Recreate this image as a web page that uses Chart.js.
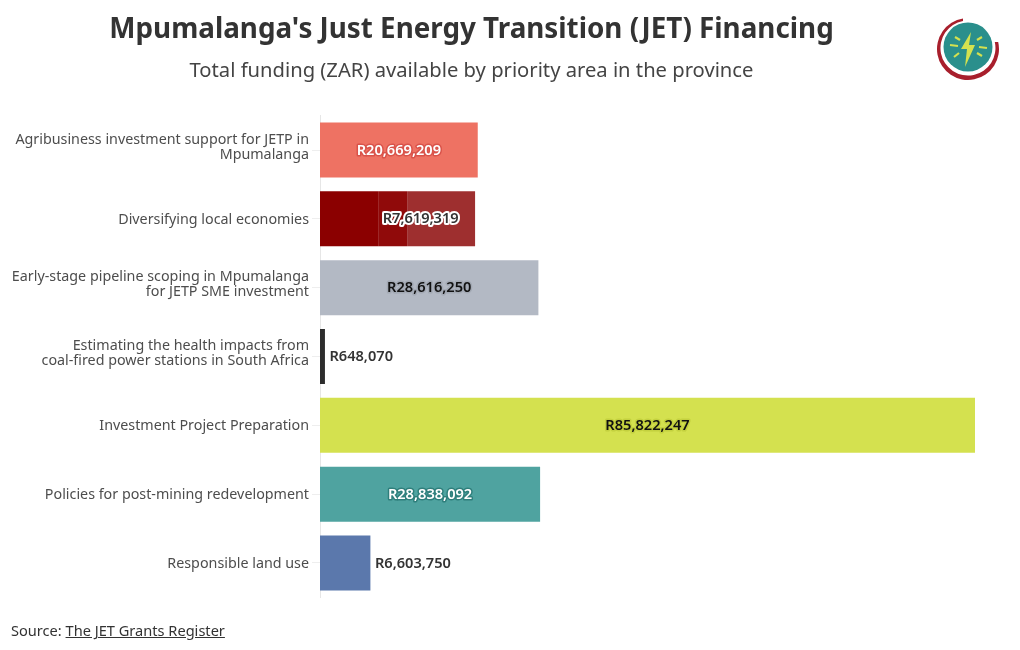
<!DOCTYPE html>
<html>
<head>
<meta charset="utf-8">
<title>Mpumalanga JET Financing</title>
<script src="https://cdn.jsdelivr.net/npm/chart.js@4"></script>
<style>
  html, body { margin: 0; padding: 0; background: #fff; }
  body { width: 1020px; height: 650px; position: relative; overflow: hidden; font-family: "Noto Sans", sans-serif; color: #333; }
  #jetChart { position: absolute; left: 0; top: 0; }
  .title, .subtitle { position: absolute; left: 0; width: 943px; text-align: center; white-space: nowrap; }
  .title { top: 8px; font-size: 27.8px; line-height: 38px; font-weight: 700; color: #333; }
  .subtitle { top: 55px; font-size: 20.2px; line-height: 28px; color: #444; }
  .source { position: absolute; left: 11px; top: 620px; font-size: 14.6px; line-height: 20px; color: #333; }
  .source span { text-decoration: underline; }
  .logo { position: absolute; left: 934px; top: 14px; }
</style>
</head>
<body>
<canvas id="jetChart" width="1020" height="650"></canvas>
<div class="title">Mpumalanga's Just Energy Transition (JET) Financing</div>
<div class="subtitle">Total funding (ZAR) available by priority area in the province</div>
<div class="source">Source: <span>The JET Grants Register</span></div>
<svg class="logo" width="70" height="70" viewBox="0 0 70 70">
  <circle cx="34" cy="33" r="24.5" fill="#2a8f8c"/>
  <path d="M 29 4.4 A 31 31 0 1 0 64.2 28 L 60.8 28 A 27.5 27.5 0 1 1 29 7 Z" fill="#a81f2c"/>
  <path d="M 37 18 L 27 35 L 33 35 L 31 53 L 41 31 L 35 31 Z" fill="#d4e14f"/>
  <path d="M 21 23 L 26 26 M 16 31 L 24 32 M 20 43 L 25 39 M 48 23 L 43 26 M 53 34 L 45 33 M 48 42 L 43 39" stroke="#d4e14f" stroke-width="2.2" fill="none"/>
</svg>
<script>
const categories = [
    ['Agribusiness investment support for JETP in', 'Mpumalanga'],
    'Diversifying local economies',
    ['Early-stage pipeline scoping in Mpumalanga', 'for JETP SME investment'],
    ['Estimating the health impacts from', 'coal-fired power stations in South Africa'],
    'Investment Project Preparation',
    'Policies for post-mining redevelopment',
    'Responsible land use'
];

// first grant per area, "Diversifying" has two more stacked on it
const firstGrant = [20669209, 7619319, 28616250, 648070, 85822247, 28838092, 6603750];
const secondGrant = [null, 3800000, null, null, null, null, null];
const thirdGrant = [null, 8900000, null, null, null, null, null];

const barColors = ['#ee7263', '#8b0000', '#b3b9c4', '#2d2d2d', '#d4e14f', '#4fa3a0', '#5b78ac'];
const textColors = ['#ffffff', '#333333', '#111111', '#333333', '#111111', '#ffffff', '#333333'];
const haloColors = ['#d9534a', '#ffffff', '#a3a9b4', null, '#c4d13f', '#2f7f7c', null];

const darkRed2 = '#900a0a';
const darkRed3 = '#9e2f2f';

// the label of the stacked bar sits off-centre in the original
const labelValueOverride = { 1: 12700000 };

const money = (v) => 'R' + v.toLocaleString('en-US');

const valueLabels = {
    id: 'valueLabels',
    afterDatasetsDraw(chart) {
        const { ctx, scales: { x, y } } = chart;
        ctx.save();
        ctx.font = '600 14.6px "Noto Sans", sans-serif';
        ctx.textBaseline = 'middle';
        firstGrant.forEach((value, i) => {
            const text = money(value);
            const yPos = y.getPixelForValue(i) + 0.5;
            const outside = x.getPixelForValue(value) - x.left < ctx.measureText(text).width;
            let xPos;
            if (outside) {
                ctx.textAlign = 'left';
                xPos = x.getPixelForValue(value) + 4.5;
            } else {
                ctx.textAlign = 'center';
                const at = labelValueOverride[i] !== undefined ? labelValueOverride[i] : value / 2;
                xPos = x.getPixelForValue(at);
            }
            if (haloColors[i]) {
                ctx.lineJoin = 'round';
                ctx.lineWidth = i === 1 ? 4 : 3;
                ctx.strokeStyle = haloColors[i];
                ctx.strokeText(text, xPos, yPos);
            }
            ctx.fillStyle = textColors[i];
            ctx.fillText(text, xPos, yPos);
        });
        ctx.restore();
    }
};

// two-line labels sit a little higher than the bar centre, one-liners a little lower
const nudgeTickLabels = {
    id: 'nudgeTickLabels',
    beforeDraw(chart) {
        const scale = chart.scales.y;
        if (scale.$nudged) return;
        scale.getLabelItems().forEach((item) => {
            item.options.translation[1] += Array.isArray(item.label) ? -3 : 1;
        });
        scale.$nudged = true;
    }
};

new Chart(document.getElementById('jetChart'), {
    type: 'bar',
    data: {
        labels: categories,
        datasets: [
            { data: firstGrant, backgroundColor: barColors },
            { data: secondGrant, backgroundColor: darkRed2 },
            { data: thirdGrant, backgroundColor: darkRed3 }
        ]
    },
    options: {
        indexAxis: 'y',
        responsive: false,
        animation: false,
        categoryPercentage: 0.8,
        barPercentage: 1,
        layout: { padding: { top: 115.6, bottom: 52.6, right: 45, left: 0 } },
        plugins: {
            legend: { display: false },
            tooltip: { enabled: false }
        },
        scales: {
            x: {
                display: false,
                stacked: true,
                min: 0,
                max: 85822247
            },
            y: {
                stacked: true,
                afterFit: (scale) => { scale.width = 320; },
                grid: {
                    offset: false,
                    drawOnChartArea: false,
                    color: '#eeeeee',
                    tickLength: 8
                },
                border: { color: '#e6e6e6' },
                ticks: {
                    color: '#4d4d4d',
                    padding: 3,
                    font: { family: '"Noto Sans", sans-serif', size: 14.3, lineHeight: 1.05 }
                }
            }
        }
    },
    plugins: [valueLabels, nudgeTickLabels]
});
</script>
</body>
</html>
